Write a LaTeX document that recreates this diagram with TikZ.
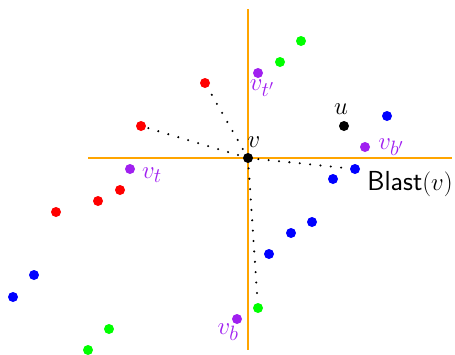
\documentclass[tikz,border=0pt]{standalone}
\usepackage{tikz}
\definecolor{vred}{RGB}{255,0,0}
\definecolor{vblue}{RGB}{0,0,255}
\definecolor{vgreen}{RGB}{0,255,0}
\definecolor{vpurple}{RGB}{160,32,240}
\definecolor{axis}{RGB}{255,165,0}
\begin{document}
\begin{tikzpicture}[x=1pt,y=-1pt,
  pt/.style={circle,inner sep=0pt,minimum size=10pt,fill=#1},
  axisline/.style={draw=axis,line width=2pt},
  dotline/.style={line width=2.3pt,dash pattern=on 0pt off 10.4pt,line cap=round},
  lab/.style={inner sep=0pt,font=\fontsize{27.5}{32}\selectfont},
  plab/.style={lab,text=vpurple}]
\useasboundingbox (0,0) rectangle (455,354);
% axes
\coordinate (ht) at (248,9);
\coordinate (hb) at (248,350);
\coordinate (hl) at (88,158);
\coordinate (hr) at (452,158);
\draw[axisline] (ht) -- (hb);
\draw[axisline] (hl) -- (hr);
% center
\node[pt=black] (v) at (248,158) {};
% red
\node[pt=vred] (r1) at (205,83) {};
\node[pt=vred] (r2) at (141,126) {};
\node[pt=vred] (r3) at (120,190) {};
\node[pt=vred] (r4) at (98,201) {};
\node[pt=vred] (r5) at (56,212) {};
% green
\node[pt=vgreen] (g1) at (301,41) {};
\node[pt=vgreen] (g2) at (280,62) {};
\node[pt=vgreen] (g3) at (258,308) {};
\node[pt=vgreen] (g4) at (109,329) {};
\node[pt=vgreen] (g5) at (88,350) {};
% blue
\node[pt=vblue] (b1) at (387,116) {};
\node[pt=vblue] (b2) at (355,169) {};
\node[pt=vblue] (b3) at (333,179) {};
\node[pt=vblue] (b4) at (312,222) {};
\node[pt=vblue] (b5) at (291,233) {};
\node[pt=vblue] (b6) at (269,254) {};
\node[pt=vblue] (b7) at (34,275) {};
\node[pt=vblue] (b8) at (13,297) {};
% purple
\node[pt=vpurple] (vt) at (130,169) {};
\node[pt=vpurple] (vtp) at (258,73) {};
\node[pt=vpurple] (vbp) at (365,147) {};
\node[pt=vpurple] (vb) at (237,319) {};
% u
\node[pt=black] (u) at (344,126) {};
% dotted
\draw[dotline] (v.center) -- (r1);
\draw[dotline] (v.center) -- (r2);
\draw[dotline] (v.center) -- (b2);
\draw[dotline] (v.center) -- (g3);
% labels
\node[lab] (lv) at (254,142) {$v$};
\node[lab] (lu) at (341,109) {$u$};
\node[plab] (lvt) at (152,175) {$v_t$};
\node[plab] (lvtp) at (262,88) {$v_{t'}$};
\node[plab] (lvbp) at (391,147) {$v_{b'}$};
\node[plab] (lvb) at (228,332) {$v_b$};
\node[lab] (lblast) at (410,184) {$\textsf{Blast}(v)$};
\end{tikzpicture}
\end{document}
